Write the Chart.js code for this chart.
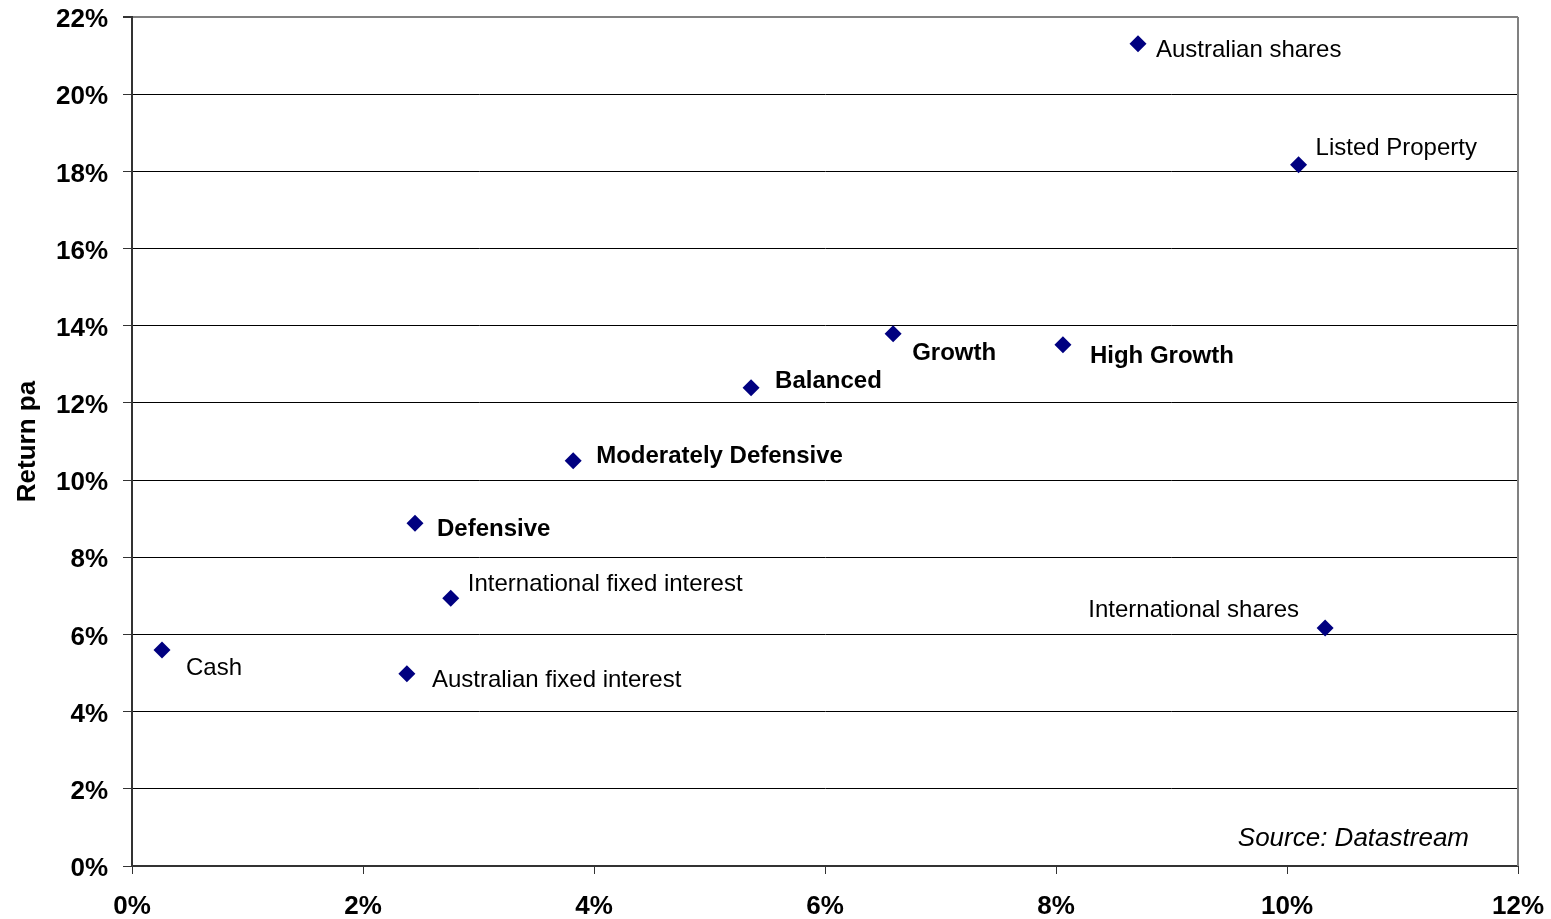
<!DOCTYPE html>
<html>
<head>
<meta charset="utf-8">
<script src="https://cdn.jsdelivr.net/npm/chart.js@4"></script>
<style>
  html, body { margin: 0; padding: 0; background: #fff; }
  #wrap { width: 1551px; height: 919px; }
</style>
</head>
<body>
<div id="wrap"><canvas id="riskReturn"></canvas></div>
<script>
// ==================== DATA ====================
// asset classes (plain labels)
const assetNames = ['Cash', 'Australian fixed interest', 'International fixed interest',
  'Australian shares', 'International shares', 'Listed Property'];
const assetRisk = [0.26, 2.38, 2.76, 8.71, 10.33, 10.10];
const assetReturn = [5.60, 4.98, 6.94, 21.31, 6.17, 18.17];

// diversified portfolios (bold labels)
const portfolioNames = ['Defensive', 'Moderately Defensive', 'Balanced', 'Growth', 'High Growth'];
const portfolioRisk = [2.45, 3.82, 5.36, 6.59, 8.06];
const portfolioReturn = [8.88, 10.50, 12.39, 13.79, 13.51];

const xTicks = [0, 2, 4, 6, 8, 10, 12];
const yTicks = [0, 2, 4, 6, 8, 10, 12, 14, 16, 18, 20, 22];
const sourceNote = 'Source: Datastream';
const yTitle = 'Return pa';

// where each label sits next to its marker (px from point, to text baseline)
const labelPlacement = {
  'Cash': [24, 25, 'left'],
  'Australian fixed interest': [25, 13, 'left'],
  'International fixed interest': [17, -7, 'left'],
  'Australian shares': [18, 13, 'left'],
  'International shares': [-26, -11, 'right'],
  'Listed Property': [17, -10, 'left'],
  'Defensive': [22, 13, 'left'],
  'Moderately Defensive': [23, 2, 'left'],
  'Balanced': [24, 0, 'left'],
  'Growth': [19, 26, 'left'],
  'High Growth': [27, 18, 'left']
};

const FONT = '"Liberation Sans", Arial, sans-serif';
const NAVY = '#000080';

function toPoints(xs, ys) {
  return xs.map((x, i) => ({ x: x, y: ys[i] }));
}

// --- labels next to points + source note + right border ---
const pointLabels = {
  id: 'pointLabels',
  afterDatasetsDraw(chart) {
    const ctx = chart.ctx;
    const area = chart.chartArea;
    ctx.save();

    // right border of plot area
    ctx.strokeStyle = '#808080';
    ctx.lineWidth = 2;
    ctx.beginPath();
    ctx.moveTo(area.right, area.top);
    ctx.lineTo(area.right, area.bottom);
    ctx.stroke();

    ctx.fillStyle = '#000';
    ctx.textBaseline = 'alphabetic';
    chart.data.datasets.forEach((ds, di) => {
      const meta = chart.getDatasetMeta(di);
      ctx.font = (ds.boldLabels ? 'bold ' : '') + '24px ' + FONT;
      meta.data.forEach((pt, i) => {
        const name = ds.names[i];
        const p = labelPlacement[name] || [15, 0, 'left'];
        ctx.textAlign = p[2];
        ctx.fillText(name, pt.x + p[0], pt.y + p[1]);
      });
    });

    ctx.font = 'italic 26px ' + FONT;
    ctx.textAlign = 'right';
    ctx.fillText(sourceNote, area.right - 49, area.bottom - 20);
    ctx.restore();
  }
};

const ctx = document.getElementById('riskReturn');
new Chart(ctx, {
  type: 'scatter',
  data: {
    datasets: [
      {
        label: 'Asset classes',
        names: assetNames,
        boldLabels: false,
        data: toPoints(assetRisk, assetReturn),
        pointStyle: 'rectRot',
        pointRadius: 8.5,
        backgroundColor: NAVY,
        borderColor: NAVY,
        borderWidth: 0
      },
      {
        label: 'Portfolios',
        names: portfolioNames,
        boldLabels: true,
        data: toPoints(portfolioRisk, portfolioReturn),
        pointStyle: 'rectRot',
        pointRadius: 8.5,
        backgroundColor: NAVY,
        borderColor: NAVY,
        borderWidth: 0
      }
    ]
  },
  options: {
    responsive: true,
    maintainAspectRatio: false,
    animation: false,
    layout: { padding: { top: 17, right: 33, left: 0, bottom: 0 } },
    plugins: {
      legend: { display: false },
      tooltip: { enabled: false }
    },
    scales: {
      x: {
        type: 'linear',
        min: 0,
        max: 12,
        afterBuildTicks: (s) => { s.ticks = xTicks.map(v => ({ value: v })); },
        afterFit: (s) => {
          s.height = 53;
          s.paddingLeft = 0;
          s.paddingRight = 0;
        },
        ticks: {
          color: '#000',
          padding: 17,
          font: { family: FONT, size: 26, weight: 'bold' },
          callback: (v) => v + '%'
        },
        grid: {
          drawOnChartArea: false,
          drawTicks: true,
          tickLength: 8,
          tickColor: '#333',
          tickWidth: 1
        },
        border: { color: '#333', width: 2 }
      },
      y: {
        type: 'linear',
        min: 0,
        max: 22,
        afterBuildTicks: (s) => { s.ticks = yTicks.map(v => ({ value: v })); },
        afterFit: (s) => {
          s.width = 132;
          s.paddingTop = 0;
          s.paddingBottom = 0;
        },
        title: {
          display: true,
          text: yTitle,
          color: '#000',
          padding: { top: 12, bottom: 0 },
          font: { family: FONT, size: 26, weight: 'bold' }
        },
        ticks: {
          color: '#000',
          padding: 15,
          labelOffset: 3,
          font: { family: FONT, size: 26, weight: 'bold' },
          callback: (v) => v + '%'
        },
        grid: {
          color: (c) => (c.tick && c.tick.value === 22 ? '#808080' : '#000'),
          lineWidth: (c) => (c.tick && c.tick.value === 22 ? 2 : 1),
          tickColor: '#333',
          tickLength: 9
        },
        border: { color: '#333', width: 2 }
      }
    }
  },
  plugins: [pointLabels]
});
</script>
</body>
</html>
